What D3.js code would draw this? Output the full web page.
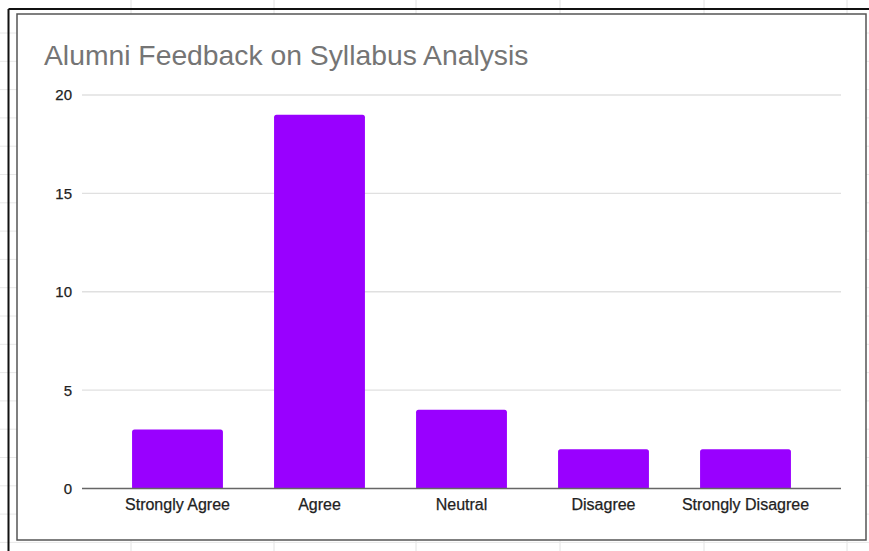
<!DOCTYPE html>
<html>
<head>
<meta charset="utf-8">
<script src="https://cdn.jsdelivr.net/npm/d3@7"></script>
<style>
  html, body { margin: 0; padding: 0; background: #fff; }
  svg { display: block; font-family: Arial, "Liberation Sans", sans-serif; }
</style>
</head>
<body>
<svg id="chart" width="869" height="551"></svg>
<script>
const title = "Alumni Feedback on Syllabus Analysis";
const categories = ["Strongly Agree", "Agree", "Neutral", "Disagree", "Strongly Disagree"];
const values = [3, 19, 4, 2, 2];
const yTicks = [0, 5, 10, 15, 20];

const svg = d3.select("#chart");
const W = 869, H = 551;

// spreadsheet background grid
const sheetCols = [131, 274, 416, 560, 704, 847];
svg.append("g").selectAll("line").data(sheetCols).join("line")
  .attr("x1", d => d).attr("x2", d => d).attr("y1", 0).attr("y2", H)
  .attr("stroke", "#e2e2e2").attr("stroke-width", 1);
const sheetRows = d3.range(33, H, 28.3);
svg.append("g").selectAll("line").data(sheetRows).join("line")
  .attr("x1", 0).attr("x2", W).attr("y1", d => d).attr("y2", d => d)
  .attr("stroke", "#e8e8e8").attr("stroke-width", 1);

// outer black frame (top & left)
svg.append("line").attr("x1", 8.5).attr("x2", W).attr("y1", 9).attr("y2", 9)
  .attr("stroke", "#111").attr("stroke-width", 2);
svg.append("line").attr("x1", 8.5).attr("x2", 8.5).attr("y1", 9).attr("y2", H)
  .attr("stroke", "#111").attr("stroke-width", 2);

// chart box
svg.append("rect").attr("x", 17).attr("y", 14).attr("width", 849).attr("height", 526)
  .attr("fill", "#fff").attr("stroke", "#555").attr("stroke-width", 1.5);

// title
svg.append("text").attr("x", 44).attr("y", 65)
  .attr("font-size", 28.3).attr("fill", "#757575").text(title);

// scales
const plotLeft = 82, plotRight = 841;
const x = d3.scaleBand().domain(categories).range([plotLeft, plotRight])
  .paddingInner(0.36).paddingOuter(0.3525);
const y = d3.scaleLinear().domain([0, 20]).range([488.5, 95]);

// gridlines
svg.append("g").selectAll("line").data(yTicks.filter(t => t !== 0)).join("line")
  .attr("x1", plotLeft).attr("x2", plotRight)
  .attr("y1", d => y(d)).attr("y2", d => y(d))
  .attr("stroke", "#e0e0e0").attr("stroke-width", 1.3);

// y labels
svg.append("g").selectAll("text").data(yTicks).join("text")
  .attr("x", 72).attr("y", d => y(d)).attr("dy", "0.36em")
  .attr("text-anchor", "end").attr("font-size", 15).attr("fill", "#222")
  .attr("stroke", "#222").attr("stroke-width", 0.25)
  .text(d => d);

// bars with rounded tops
const r = 2.5;
svg.append("g").selectAll("path").data(values).join("path")
  .attr("d", (d, i) => {
    const x0 = x(categories[i]), w = x.bandwidth();
    const y0 = y(d), yb = y(0);
    return `M${x0},${yb}V${y0 + r}Q${x0},${y0} ${x0 + r},${y0}H${x0 + w - r}Q${x0 + w},${y0} ${x0 + w},${y0 + r}V${yb}Z`;
  })
  .attr("fill", "#9900ff");

// baseline
svg.append("line").attr("x1", plotLeft).attr("x2", plotRight)
  .attr("y1", y(0)).attr("y2", y(0)).attr("stroke", "#666").attr("stroke-width", 1.5);

// x labels
svg.append("g").selectAll("text").data(categories).join("text")
  .attr("x", d => x(d) + x.bandwidth() / 2).attr("y", 510)
  .attr("text-anchor", "middle").attr("font-size", 16).attr("fill", "#222")
  .attr("stroke", "#222").attr("stroke-width", 0.25)
  .text(d => d);
</script>
</body>
</html>
